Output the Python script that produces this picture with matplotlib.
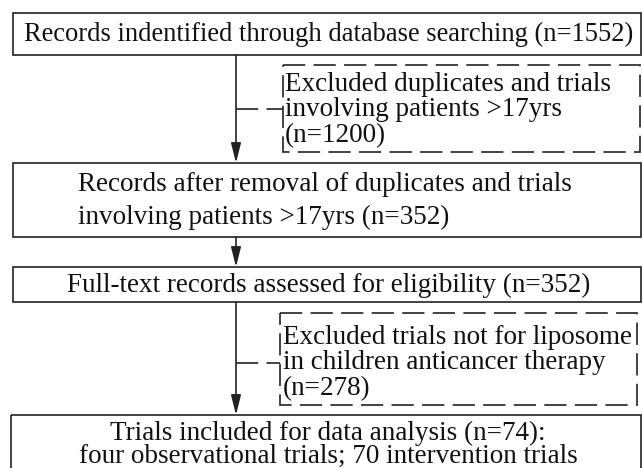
import matplotlib.pyplot as plt
import matplotlib.patches as patches

# counts shown in the flow diagram
n_identified = 1552
n_excluded_first = 1200
n_after_removal = 352
n_assessed = 352
n_excluded_second = 278
n_included = 74
n_intervention = 70

box_texts = [
    f"Records indentified through database searching (n={n_identified})",
    "Records after removal of duplicates and trials\n"
    f"involving patients >17yrs (n={n_after_removal})",
    f"Full-text records assessed for eligibility (n={n_assessed})",
    f"Trials included for data analysis (n={n_included}):\n"
    f"four observational trials; {n_intervention} intervention trials",
]
excluded_texts = [
    "Excluded duplicates and trials\ninvolving patients >17yrs\n"
    f"(n={n_excluded_first})",
    "Excluded trials not for liposome\nin children anticancer therapy\n"
    f"(n={n_excluded_second})",
]

plt.rcParams['lines.scale_dashes'] = False
fig = plt.figure(figsize=(6.42, 4.68), dpi=100)
ax = fig.add_axes([0, 0, 1, 1])
ax.set_xlim(0, 642)
ax.set_ylim(468, 0)
ax.axis('off')

font = dict(family='Liberation Serif', size=19.5, color='#111111')
edge = '#222222'
dash = (0, (16, 6))

# --- solid boxes (x0, y0, x1, y1) in pixel units ---
boxes = [(12.5, 13, 641, 55), (12.5, 163, 641, 237), (12.5, 267, 641, 302), (10.5, 415, 641, 475)]
for (x0, y0, x1, y1) in boxes:
    ax.add_patch(patches.Rectangle((x0, y0), x1 - x0, y1 - y0, fill=False,
                                   ec=edge, lw=1.2, clip_on=False))

ax.text(24, 34, box_texts[0], ha='left', va='center', **dict(font, size=19.1))
ax.text(78, 201, box_texts[1], ha='left', va='center', linespacing=1.4, **font)
ax.text(329, 285, box_texts[2], ha='center', va='center', **font)
ax.text(328, 445, box_texts[3], ha='center', va='center', linespacing=0.88, **font)

# --- dashed exclusion boxes ---
dashed = [(283, 65, 640, 152), (280, 313, 637, 405)]
for (x0, y0, x1, y1) in dashed:
    ax.add_patch(patches.Rectangle((x0, y0), x1 - x0, y1 - y0, fill=False,
                                   ec=edge, lw=1.2, ls=dash, clip_on=False))

ax.text(285, 110, excluded_texts[0], ha='left', va='center', linespacing=1.05, **font)
ax.text(283, 363, excluded_texts[1], ha='left', va='center', linespacing=1.05, **font)

# connectors from main flow to exclusion boxes
ax.plot([236, 283], [109, 109], color=edge, lw=1.2, ls=dash)
ax.plot([236, 280], [363, 363], color=edge, lw=1.2, ls=dash)

# --- arrows ---
arrow_style = dict(arrowstyle='-|>,head_length=1.0,head_width=0.25', color=edge,
                   lw=1.2, shrinkA=0, shrinkB=0, mutation_scale=12)
for (ya, yb) in [(55, 163), (237, 267), (302, 415)]:
    ax.annotate('', xy=(236, yb), xytext=(236, ya), arrowprops=arrow_style)

plt.savefig("out.png", dpi=100)
